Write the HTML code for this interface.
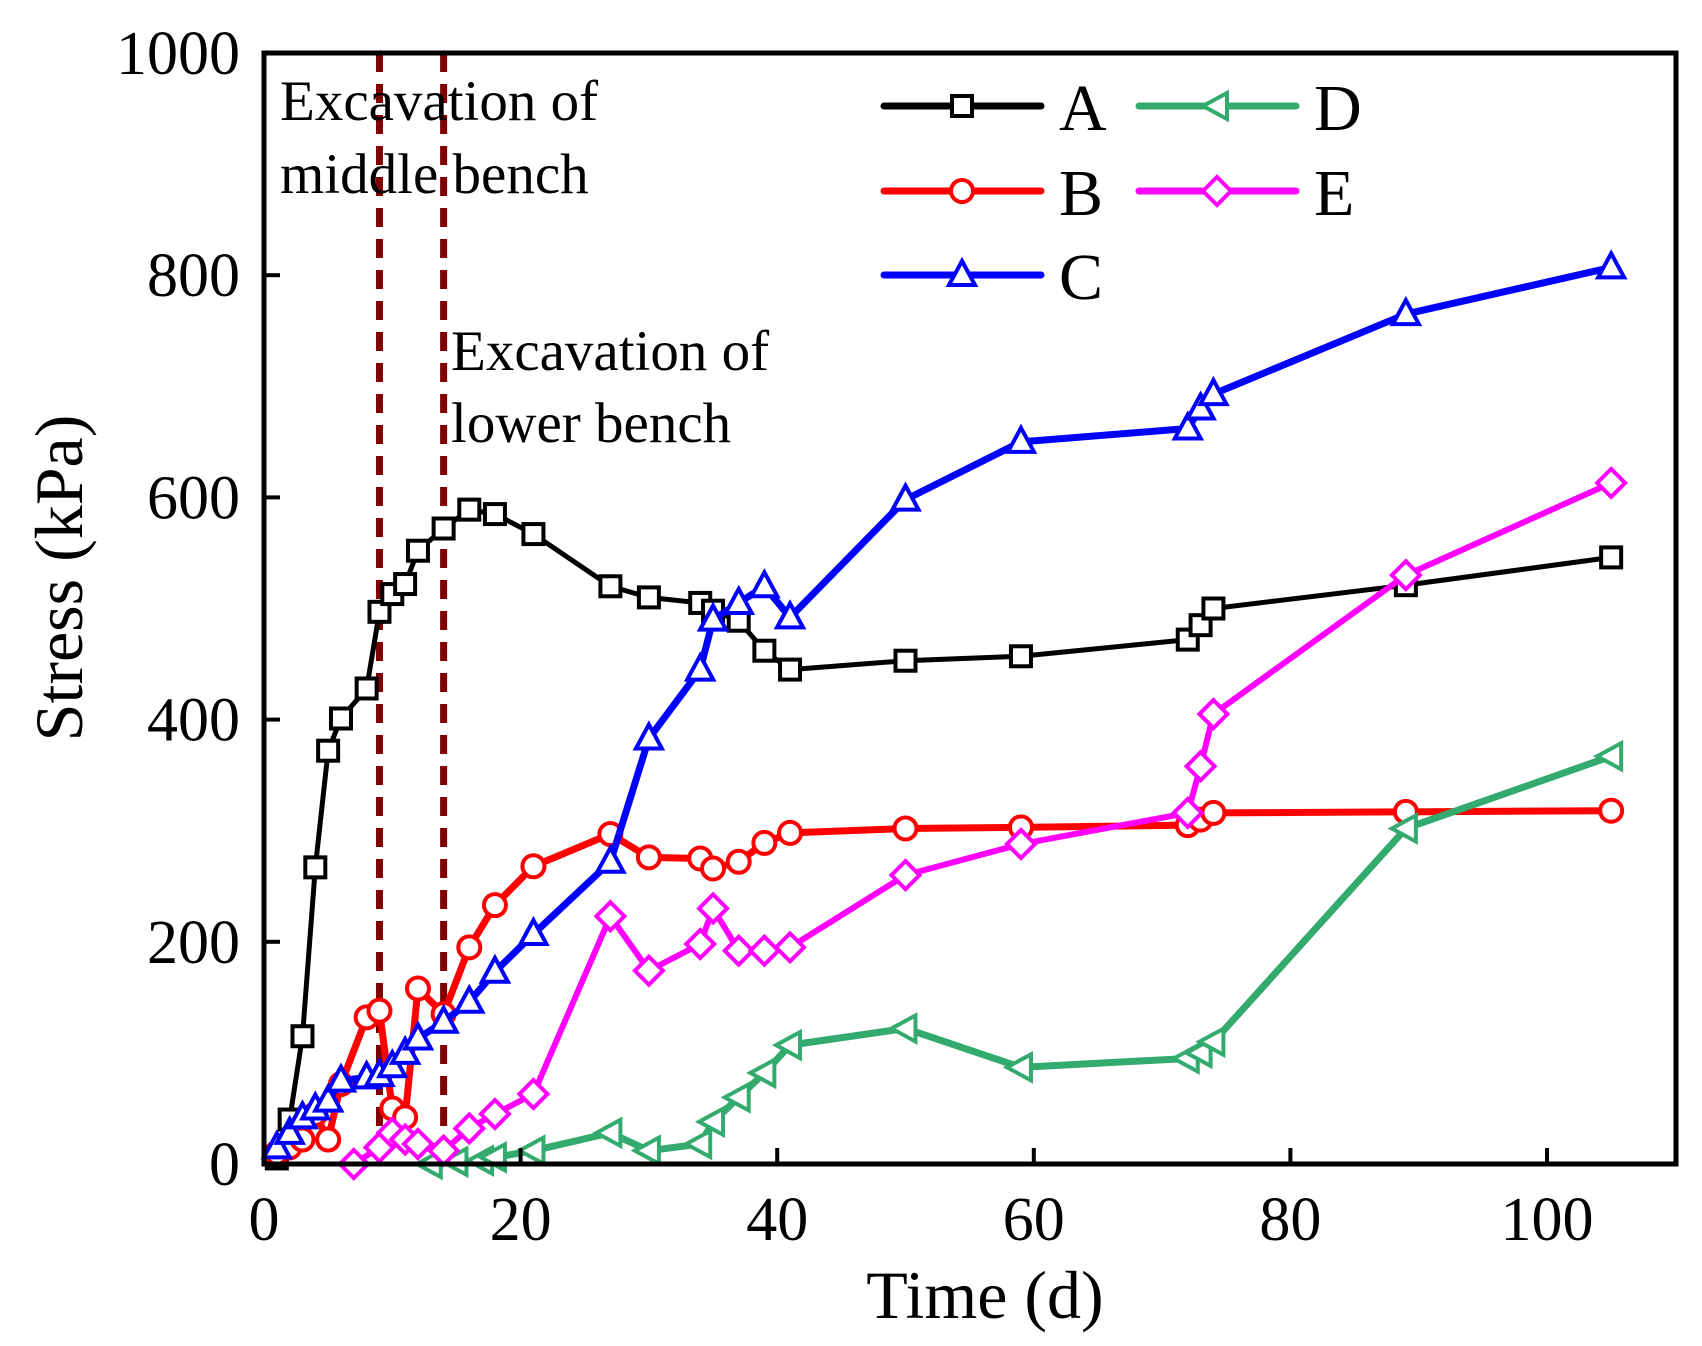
<!DOCTYPE html>
<html><head><meta charset="utf-8"><style>
html,body{margin:0;padding:0;background:#fff}
svg{display:block}
text{font-family:"Liberation Serif",serif;fill:#000}
</style></head><body>
<svg id="chart" width="1702" height="1346" viewBox="0 0 1702 1346">
<g id="series"></g>
<g id="axes"></g>
</svg>
<script>
const xTicks=[0,20,40,60,80,100];
const yTicks=[0,200,400,600,800,1000];
const stageDays=[9,14];
const aX=[1,2,3,4,5,6,8,9,10,11,12,14,16,18,21,27,30,34,35,37,39,41,50,59,72,73,74,89,105];
const aY=[5,40,115,267,372,401,428,497,513,522,552,572,589,585,567,520,510,505,498,489,462,445,453,457,472,485,500,521,546];
const bX=[1,2,3,4,5,6,8,9,10,11,12,14,16,18,21,27,30,34,35,37,39,41,50,59,72,73,74,89,105];
const bY=[10,15,22,45,22,72,132,138,50,42,158,135,195,233,268,297,276,275,266,272,289,298,302,303,305,310,316,317,318];
const cX=[1,2,3,4,5,6,8,9,10,11,12,14,16,18,21,27,30,34,35,37,39,41,50,59,72,73,74,89,105];
const cY=[15,28,42,50,57,75,78,80,88,100,113,128,146,173,207,272,383,445,490,505,520,492,598,650,662,680,693,765,807];
const dX=[13,15,17,18,21,27,30,34,35,37,39,41,50,59,72,73,74,89,105];
const dY=[0,2,3,6,12,28,12,18,38,60,82,107,122,87,95,100,110,302,367];
const eX=[7,9,10,11,12,14,16,18,21,27,30,34,35,37,39,41,50,59,72,73,74,89,105];
const eY=[0,15,28,22,18,12,32,45,63,223,174,198,230,192,192,195,260,288,316,358,405,530,613];

const L=264,R=1676,T=53,B=1164;
const sx=v=>L+v*12.83;
const sy=v=>B-v*1.111;
const NS="http://www.w3.org/2000/svg";
function mk(tag,attrs,parent){const e=document.createElementNS(NS,tag);for(const k in attrs)e.setAttribute(k,attrs[k]);parent.appendChild(e);return e;}
const sg=document.getElementById('series'), ag=document.getElementById('axes');

stageDays.forEach((d,i)=>{
  const l=mk('line',{x1:sx(d),x2:sx(d),y1:T,y2:B,stroke:'#800000','stroke-width':7,'stroke-dasharray':'19 12'},sg);
  
  
});

function marker(type,x,y,color,parent){
  let m;
  if(type==='square') m=mk('rect',{x:x-10,y:y-10,width:20,height:20,fill:'#fff',stroke:color,'stroke-width':4},parent);
  else if(type==='circle') m=mk('circle',{cx:x,cy:y,r:11,fill:'#fff',stroke:color,'stroke-width':4},parent);
  else if(type==='tri') m=mk('polygon',{points:`${x},${y-14} ${x-13},${y+10} ${x+13},${y+10}`,fill:'#fff',stroke:color,'stroke-width':4},parent);
  else if(type==='ltri') m=mk('polygon',{points:`${x-14},${y} ${x+10},${y-13} ${x+10},${y+13}`,fill:'#fff',stroke:color,'stroke-width':4},parent);
  else m=mk('polygon',{points:`${x},${y-14} ${x+14},${y} ${x},${y+14} ${x-14},${y}`,fill:'#fff',stroke:color,'stroke-width':4},parent);
  return m;
}
const series=[
 ['A',aX,aY,'#000','square',5],
 ['B',bX,bY,'#ff0000','circle',7],
 ['C',cX,cY,'#0000ff','tri',7],
 ['D',dX,dY,'#33aa6e','ltri',7],
 ['E',eX,eY,'#ff00ff','diamond',6]
];
series.forEach(([n,xs,ys,c,t,w])=>{
  const g=mk('g',{},sg);
  
  
  const pts=xs.map((x,i)=>sx(x)+','+sy(ys[i])).join(' ');
  const pl=mk('polyline',{points:pts,fill:'none',stroke:c,'stroke-width':w,'stroke-linejoin':'round'},g);
  
  
  xs.forEach((x,i)=>{
    const m=marker(t,sx(x),sy(ys[i]),c,g);
    
    
  });
});

const fr=mk('rect',{x:L,y:T,width:R-L,height:B-T,fill:'none',stroke:'#000','stroke-width':5},ag);


xTicks.forEach(v=>{
  const tk=mk('line',{x1:sx(v),x2:sx(v),y1:B,y2:B-16,stroke:'#000','stroke-width':4},ag);
  
  
  const tx=mk('text',{x:sx(v),y:1240,'text-anchor':'middle','font-size':62},ag);
  tx.textContent=v;
  
  
});
yTicks.forEach(v=>{
  const tk=mk('line',{x1:L,x2:L+16,y1:sy(v),y2:sy(v),stroke:'#000','stroke-width':4},ag);
  
  
  const tx=mk('text',{x:240,y:sy(v)+21,'text-anchor':'end','font-size':62},ag);
  tx.textContent=v;
  
  
});

const leg=[['A',884,106],['B',884,191],['C',884,275],['D',1139,106],['E',1139,191]];
leg.forEach(([n,x,y])=>{
  const s=series.find(q=>q[0]===n);
  const g=mk('g',{},ag);
  
  
  mk('line',{x1:x,x2:x+157,y1:y,y2:y,stroke:s[3],'stroke-width':7,'stroke-linecap':'round'},g);
  marker(s[4],x+78,y,s[3],g);
  const t=mk('text',{x:x+175,y:y+24,'font-size':66},g);
  t.textContent=n;
});
</script>
<svg style="position:absolute;left:0;top:0" width="1702" height="1346">
<text x="280" y="120" font-size="57"><tspan x="280">Excavation of</tspan><tspan x="280" y="193">middle bench</tspan></text>
<text x="451" y="370" font-size="57"><tspan x="451">Excavation of</tspan><tspan x="451" y="442">lower bench</tspan></text>
<text x="985" y="1318" font-size="68" text-anchor="middle">Time (d)</text>
<text x="0" y="0" font-size="68" text-anchor="middle" transform="translate(82,578) rotate(-90)">Stress (kPa)</text>
</svg>
</body></html>
